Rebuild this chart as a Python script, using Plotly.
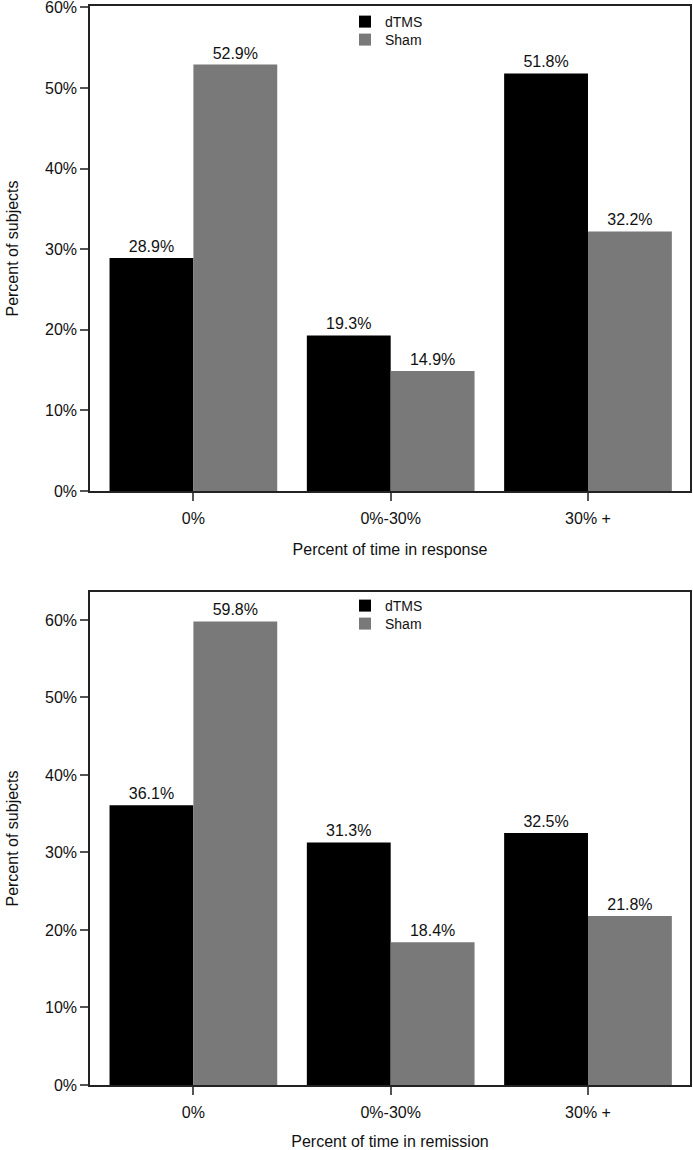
import plotly.graph_objects as go

categories = ["0%", "0%-30%", "30% +"]
response_dtms = [28.9, 19.3, 51.8]
response_sham = [52.9, 14.9, 32.2]
remission_dtms = [36.1, 31.3, 32.5]
remission_sham = [59.8, 18.4, 21.8]
y_ticks = [0, 10, 20, 30, 40, 50, 60]
y_tick_labels = ["0%", "10%", "20%", "30%", "40%", "50%", "60%"]
series_names = ["dTMS", "Sham"]
colors = ["#000000", "#797979"]

W, H = 693, 1150
FONT = "Liberation Sans, Arial, sans-serif"

fig = go.Figure()

panels = [
    (response_dtms, response_sham, "x", "y", ["legend", "legend2"]),
    (remission_dtms, remission_sham, "x2", "y2", ["legend3", "legend4"]),
]
for dt, sh, xa, ya, lgs in panels:
    for name, vals, col, lg in zip(series_names, [dt, sh], colors, lgs):
        fig.add_trace(go.Bar(
            x=categories, y=vals, name=name, marker_color=col,
            marker_line_width=0, xaxis=xa, yaxis=ya, legend=lg,
            showlegend=True,
            texttemplate="%{y:.1f}%", textposition="outside",
            textfont=dict(size=16, color="#111", family=FONT),
            constraintext="none", cliponaxis=False,
        ))

def px_y(p):
    return 1 - p / H

def px_x(p):
    return p / W

xdom = [px_x(90), px_x(690)]
axis_common = dict(
    showline=True, linecolor="#222", linewidth=1.5, mirror=True,
    ticks="outside", ticklen=8, tickwidth=1.5, tickcolor="#555",
    tickfont=dict(size=16, color="#111", family=FONT),
    showgrid=False, zeroline=False, automargin=False,
    ticklabeloverflow="allow",
)
xaxis_extra = dict(ticklabelstandoff=4)

def legend_at(top_px):
    return dict(x=px_x(345), y=px_y(top_px), xanchor="left", yanchor="top",
                bgcolor="rgba(0,0,0,0)", font=dict(size=14, color="#111"),
                visible=True)

fig.update_layout(
    width=W, height=H,
    showlegend=True,
    margin=dict(l=0, r=0, t=0, b=0),
    paper_bgcolor="white", plot_bgcolor="white",
    barmode="group", bargap=0.15, bargroupgap=0,
    font=dict(family=FONT, color="#111"),
    xaxis=dict(domain=xdom, anchor="y", range=[-0.524, 2.517],
               title=dict(text="Percent of time in response", standoff=18,
                          font=dict(size=16, color="#111")),
               **xaxis_extra, **axis_common),
    yaxis=dict(domain=[px_y(491), px_y(6)], anchor="x", range=[0, 60.17],
               tickvals=y_ticks, ticktext=y_tick_labels,
               title=dict(text="Percent of subjects", standoff=22,
                          font=dict(size=16, color="#111")), **axis_common),
    xaxis2=dict(domain=xdom, anchor="y2", range=[-0.524, 2.517],
                title=dict(text="Percent of time in remission", standoff=18,
                           font=dict(size=16, color="#111")),
                **xaxis_extra, **axis_common),
    yaxis2=dict(domain=[px_y(1085), px_y(592)], anchor="x2", range=[0, 63.6],
                tickvals=y_ticks, ticktext=y_tick_labels,
                title=dict(text="Percent of subjects", standoff=22,
                           font=dict(size=16, color="#111")), **axis_common),
    legend=legend_at(6),
    legend2=legend_at(24),
    legend3=legend_at(590),
    legend4=legend_at(608),
)

fig.write_html(
    "out.html",
    config={"displayModeBar": False},
    post_script="document.body.style.margin='0';document.body.style.overflow='hidden';",
)
